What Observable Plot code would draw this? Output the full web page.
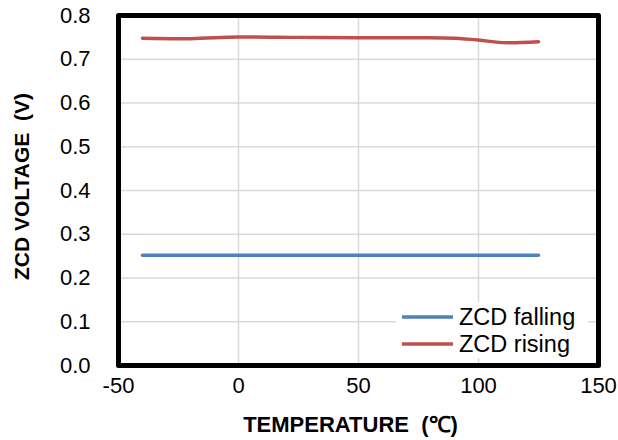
<!DOCTYPE html>
<html><head><meta charset="utf-8">
<script src="https://cdn.jsdelivr.net/npm/d3@7"></script>
<script src="https://cdn.jsdelivr.net/npm/@observablehq/plot@0.6"></script>
<style>
body{margin:0;background:#fff;}
#chart svg{font-family:"Liberation Sans",Arial,sans-serif;}
</style>
</head><body><div id="chart"></div>
<script>
const temps = [-40, -20, 0, 25, 50, 75, 90, 100, 110, 125];
const falling = [0.252, 0.252, 0.252, 0.252, 0.252, 0.252, 0.252, 0.252, 0.252, 0.252];
const rising = [0.748, 0.747, 0.751, 0.750, 0.749, 0.749, 0.748, 0.744, 0.738, 0.740];
const seriesNames = ["ZCD falling", "ZCD rising"];
const seriesColors = ["#4f81bd", "#c0504d"];
const xTicks = [-50, 0, 50, 100, 150];
const yTicks = [0, 0.1, 0.2, 0.3, 0.4, 0.5, 0.6, 0.7, 0.8];
const xTitle = "TEMPERATURE  (\u2103)";
const yTitle = "ZCD VOLTAGE  (V)";

const data = [];
temps.forEach((t,i)=>{ data.push({t, v: falling[i], s: seriesNames[0]}); });
temps.forEach((t,i)=>{ data.push({t, v: rising[i], s: seriesNames[1]}); });

const plot = Plot.plot({
  width: 618, height: 440,
  marginLeft: 118, marginRight: 20, marginTop: 15, marginBottom: 75,
  style: {fontSize: "22px", fontFamily: "Liberation Sans, Arial, sans-serif", color: "#000", background: "#fff"},
  x: {domain: [-50, 150]},
  y: {domain: [0, 0.8]},
  color: {domain: seriesNames, range: seriesColors},
  marks: [
    Plot.gridX(xTicks, {stroke: "#d9d9d9", strokeOpacity: 1, strokeWidth: 1.5}),
    Plot.gridY(yTicks, {stroke: "#d9d9d9", strokeOpacity: 1, strokeWidth: 1.5}),
    Plot.line(data, {x: "t", y: "v", z: "s", stroke: "s", strokeWidth: 3.5, curve: "catmull-rom"}),
    Plot.axisX({ticks: xTicks, tickSize: 0, tickPadding: 12, tickFormat: d => d, fontSize: 22, label: null}),
    Plot.axisY({ticks: yTicks, tickSize: 0, tickPadding: 28, tickFormat: d3.format(".1f"), fontSize: 22, label: null}),
    Plot.text([xTitle], {text: d => d, frameAnchor: "bottom", textAnchor: "middle", lineAnchor: "middle", dy: 59, dx: -8, fontSize: 22, fontWeight: "bold", fill: "#000"}),
    Plot.text([yTitle], {text: d => d, frameAnchor: "left", textAnchor: "middle", lineAnchor: "middle", rotate: -90, dx: -96, dy: -4, fontSize: 21, fontWeight: "bold", fill: "#000"}),
    Plot.frame({stroke: "black", strokeWidth: 5, strokeLinejoin: "round"})
  ]
});
document.getElementById("chart").appendChild(plot);

// legend inside the plot area
const svg = d3.select(plot);
const lg = svg.append("g").attr("class","legend");
lg.append("rect").attr("x", 396).attr("y", 302).attr("width", 192).attr("height", 56).attr("fill", "#fff");
seriesNames.forEach((n,i)=>{
  const y = 317 + i*27;
  lg.append("line").attr("x1", 402).attr("x2", 453).attr("y1", y).attr("y2", y)
    .attr("stroke", seriesColors[i]).attr("stroke-width", 3.5);
  lg.append("text").attr("x", 459).attr("y", y).attr("dy", "0.35em")
    .attr("text-anchor", "start").attr("font-size", 23.5).attr("fill", "#000").text(n);
});
</script>
</body></html>
